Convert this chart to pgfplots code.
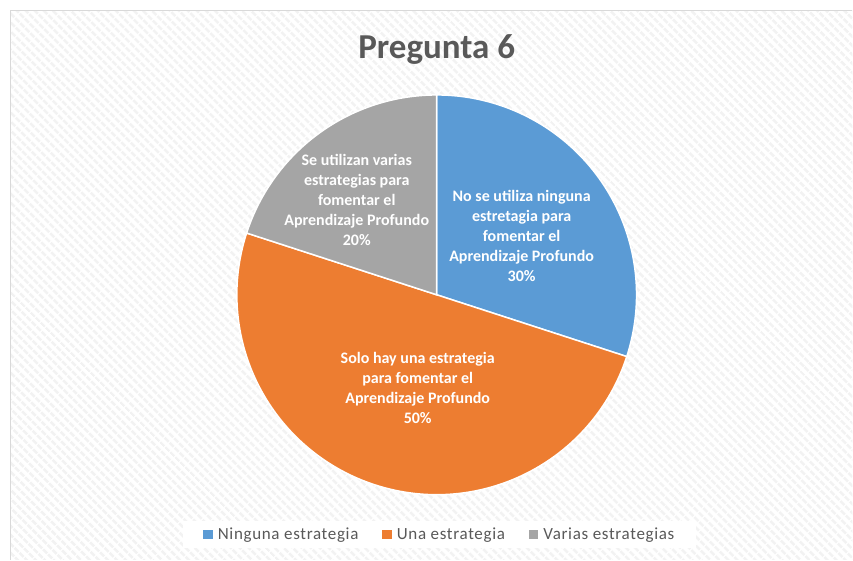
\documentclass[border=0pt]{standalone}
\usepackage{pgfplots}
\pgfplotsset{compat=1.18}
\usetikzlibrary{patterns.meta}
\usepackage{fontspec}
\setmainfont{Carlito}
\newfontfamily\legfont{Carlito}[LetterSpace=4]
\definecolor{cblue}{HTML}{5B9BD5}
\definecolor{corange}{HTML}{ED7D31}
\definecolor{cgray}{HTML}{A5A5A5}
\definecolor{ctext}{HTML}{595959}
\definecolor{cframe}{HTML}{D9D9D9}
\begin{document}
\begin{tikzpicture}
\begin{axis}[
  width=853pt, height=560pt, scale only axis,
  xmin=0, xmax=853, ymin=0, ymax=560,
  hide axis, clip=false,
  legend columns=3,
  legend style={at={(0.516,0.0446)}, anchor=center, draw=none, fill=white,
    font=\legfont\fontsize{17}{20}\selectfont, text=ctext,
    /tikz/every odd column/.append style={column sep=3pt},
    /tikz/every even column/.append style={column sep=22pt},
    inner xsep=20pt, inner ysep=5pt},
  legend image code/.code={\fill[#1, draw=none] (0pt,-4.5pt) rectangle (9.5pt,5pt);},
]
% background and frame
\path (axis cs:0,0) rectangle (axis cs:853,560);
\fill[white] (axis cs:10.5,0) rectangle (axis cs:853,549.5);
\fill[pattern={Lines[angle=-45,distance=6.5pt,line width=3pt]}, pattern color=black!5]
  (axis cs:10.5,0) rectangle (axis cs:853,549.5);
\draw[cframe, line width=1.2pt] (axis cs:10.5,0) -- (axis cs:10.5,549.5) -- (axis cs:853,549.5);
% title
\node[font=\bfseries\fontsize{35}{40}\selectfont, text=ctext] at (axis cs:437,510) {Pregunta 6};
% pie: values 30, 50, 20 (percent), clockwise from top
\filldraw[fill=cblue, draw=white, line width=1.5pt] (axis cs:437,265) -- ++(90:200pt)
  arc[start angle=90, end angle={90-3.6*30}, radius=200pt] -- cycle;
\filldraw[fill=corange, draw=white, line width=1.5pt] (axis cs:437,265) -- ++({90-3.6*30}:200pt)
  arc[start angle={90-3.6*30}, end angle={90-3.6*(30+50)}, radius=200pt] -- cycle;
\filldraw[fill=cgray, draw=white, line width=1.5pt] (axis cs:437,265) -- ++({90-3.6*80}:200pt)
  arc[start angle={90-3.6*80}, end angle={90-3.6*(80+20)}, radius=200pt] -- cycle;
% labels
\node[align=center, text=white, font=\bfseries\fontsize{16}{20}\selectfont] at (axis cs:522,324)
  {No se utiliza ninguna\\estretagia para\\fomentar el\\Aprendizaje Profundo\\30\%};
\node[align=center, text=white, font=\bfseries\fontsize{16}{20}\selectfont] at (axis cs:418,172)
  {Solo hay una estrategia\\para fomentar el\\Aprendizaje Profundo\\50\%};
\node[align=center, text=white, font=\bfseries\fontsize{16}{20}\selectfont] at (axis cs:357,360)
  {Se utilizan varias\\estrategias para\\fomentar el\\Aprendizaje Profundo\\20\%};
% legend
\addlegendimage{fill=cblue}
\addlegendentry{Ninguna estrategia}
\addlegendimage{fill=corange}
\addlegendentry{Una estrategia}
\addlegendimage{fill=cgray}
\addlegendentry{Varias estrategias}
\end{axis}
\end{tikzpicture}
\end{document}
